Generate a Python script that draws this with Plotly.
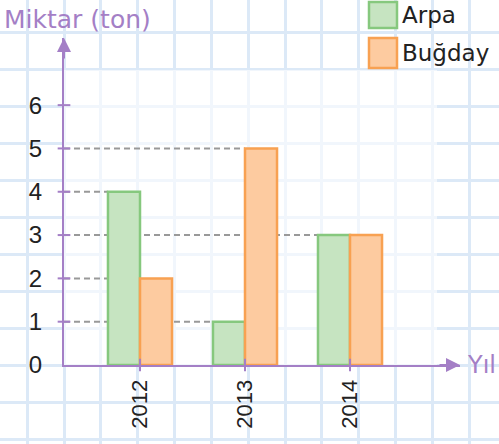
import plotly.graph_objects as go

# ---- data ----
years = ["2012", "2013", "2014"]
series_names = ["Arpa", "Buğday"]
arpa = [4, 1, 3]
bugday = [2, 5, 3]
y_ticks = [0, 1, 2, 3, 4, 5, 6]
y_title = "Miktar (ton)"
x_title = "Yıl"

# ---- styles ----
W, H = 499, 444
purple = "#a47fc6"
grid_col = "#dce9f7"
fills = ["#c6e4c1", "#fdcba0"]
edges = ["#86c87e", "#f8a152"]
txt_font = "DejaVu Sans"
num_font = "Liberation Sans"

# plot area in pixels (left, right, top, bottom)
L, R, T, B = 64, 460, 38, 365
x_range = [-0.7238, 3.0476]
y_range = [0, 7.55]
bargap = 0.39
bw = (1 - bargap) / 2

fig = go.Figure()
# empty trace so the background grid subplot is drawn
fig.add_trace(go.Scatter(x=[], y=[], xaxis="x", yaxis="y", showlegend=False,
                         hoverinfo="skip"))
for name, vals, fc, ec in zip(series_names, [arpa, bugday], fills, edges):
    fig.add_trace(go.Bar(
        x=years, y=vals, name=name, xaxis="x2", yaxis="y2",
        marker=dict(color=fc, line=dict(color=ec, width=2.5)),
        showlegend=False,
    ))

shapes = []
# lighter panel over grid
shapes.append(dict(type="rect", xref="x2", yref="y2", layer="below",
                   x0=x_range[0], x1=x_range[0] + (437 - L) / 105,
                   y0=0, y1=(B - 70) / ((B - T) / y_range[1]),
                   fillcolor="rgba(255,255,255,0.6)", line=dict(width=0)))
# dashed guide lines to bar tops
for si, vals in enumerate([arpa, bugday]):
    for i, v in enumerate(vals):
        left = i - bw if si == 0 else i
        shapes.append(dict(type="line", xref="x2", yref="y2", layer="below",
                           x0=x_range[0], x1=left, y0=v, y1=v,
                           line=dict(color="#999999", width=2, dash="6px,4px")))
# crossing tick marks
for v in y_ticks[1:]:
    shapes.append(dict(type="line", xref="x2 domain", yref="y2",
                       x0=-0.016, x1=0.016, y0=v, y1=v,
                       line=dict(color=purple, width=2)))
for i in range(len(years)):
    shapes.append(dict(type="line", xref="x2", yref="y2 domain",
                       x0=i, x1=i, y0=-0.019, y1=0.019,
                       line=dict(color=purple, width=2)))
# legend boxes
legend_y = [(2, 28), (38, 68)]
for (y0, y1), fc, ec in zip(legend_y, fills, edges):
    shapes.append(dict(type="rect", xref="paper", yref="paper",
                       x0=369 / W, x1=397 / W, y0=1 - y1 / H, y1=1 - y0 / H,
                       fillcolor=fc, line=dict(color=ec, width=2.5)))

annotations = [
    # axis arrows
    dict(xref="x2 domain", yref="y2 domain", x=0, y=1, ax=0, ay=22,
         text="", showarrow=True, arrowhead=2, arrowsize=1.4, arrowwidth=2,
         arrowcolor=purple),
    dict(xref="x2 domain", yref="y2 domain", x=1, y=0, ax=-22, ay=0,
         text="", showarrow=True, arrowhead=2, arrowsize=1.4, arrowwidth=2,
         arrowcolor=purple),
    dict(xref="paper", yref="paper", x=2 / W, y=1 - 19 / H, xanchor="left",
         yanchor="middle", text=y_title, showarrow=False,
         font=dict(family=txt_font, size=25, color=purple)),
    dict(xref="paper", yref="y2 domain", x=465 / W, y=0, xanchor="left",
         yanchor="middle", text=x_title, showarrow=False,
         font=dict(family=txt_font, size=24, color=purple)),
]
for name, (y0, y1) in zip(series_names, legend_y):
    annotations.append(dict(xref="paper", yref="paper", x=400 / W,
                            y=1 - (y0 + y1) / 2 / H, xanchor="left",
                            yanchor="middle", text=name, showarrow=False,
                            font=dict(family=txt_font, size=23, color="#222222")))

fig.update_layout(
    width=W, height=H,
    margin=dict(l=0, r=0, t=0, b=0, autoexpand=False),
    paper_bgcolor="white", plot_bgcolor="rgba(0,0,0,0)",
    barmode="group", bargap=bargap, bargroupgap=0,
    showlegend=False,
    xaxis=dict(range=[0, W], domain=[0, 1], showgrid=True, gridcolor=grid_col,
               gridwidth=3, tick0=L, dtick=36.85, showticklabels=False,
               zeroline=False, showline=False, ticks="", fixedrange=True,
               automargin=False),
    yaxis=dict(range=[H, 0], domain=[0, 1], showgrid=True, gridcolor=grid_col,
               gridwidth=3, tick0=B, dtick=37, showticklabels=False,
               zeroline=False, showline=False, ticks="", fixedrange=True,
               automargin=False),
    xaxis2=dict(domain=[L / W, R / W], anchor="y2", type="category",
                categoryorder="array", categoryarray=years, range=x_range,
                showgrid=False, zeroline=False, showline=True,
                linecolor=purple, linewidth=2, ticks="", tickangle=-90,
                ticklabelstandoff=4, automargin=False,
                tickfont=dict(family=num_font, size=22, color="#222222")),
    yaxis2=dict(domain=[1 - B / H, 1 - T / H], anchor="x2", range=y_range,
                tickvals=y_ticks, showgrid=False, zeroline=False,
                showline=True, linecolor=purple, linewidth=2, ticks="",
                ticklabelstandoff=15, automargin=False,
                tickfont=dict(family=num_font, size=24, color="#222222")),
    shapes=shapes, annotations=annotations,
)

fig.write_html("out.html", config={"displayModeBar": False},
               post_script="document.body.style.margin='0px';")
